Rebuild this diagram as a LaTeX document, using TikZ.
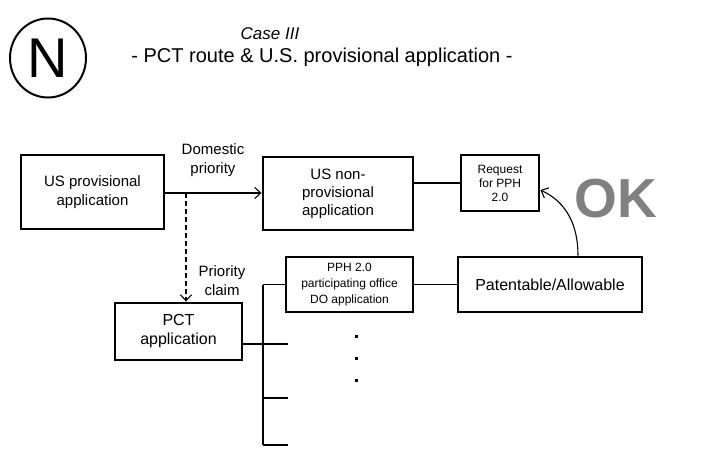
\documentclass[tikz,border=0pt]{standalone}
\usepackage{fontspec}
\setmainfont{Liberation Sans}
\usetikzlibrary{arrows.meta,shapes.geometric}
\newcommand{\fs}[2]{\fontsize{#1}{#2}\selectfont}
\begin{document}
\begin{tikzpicture}[x=1pt,y=1pt,
    box/.style={draw,line width=2.9pt,inner sep=0pt,align=center},
    lab/.style={align=center,font=\fs{15}{19}},
    link/.style={line width=1.1pt},
    tip/.style={-{Straight Barb[length=6pt,width=11pt,line width=1.1pt]}}]
    \useasboundingbox (0,0) rectangle (701,-461);
	    \node[draw,shape=ellipse,line width=2pt,minimum width=76pt,minimum height=79pt,inner sep=0pt,font=\fs{56}{60}] (mark) at (48,-58) {N};
	    \node[font=\fs{17}{20}\itshape] (case) at (270,-34) {Case III};
	    \node[font=\fs{20}{24}] (route) at (322,-57) {- PCT route \& U.S. provisional application -};

	    \node[box,minimum width=143pt,minimum height=74pt,font=\fs{15}{19}] (usprov) at (92.5,-192) {US provisional\\application};
	    \node[box,minimum width=150pt,minimum height=73pt,font=\fs{15}{18}] (usnonprov) at (338,-193.5) {US non-\\provisional\\application};
	    \node[box,minimum width=78pt,minimum height=56pt,font=\fs{12}{14}] (request) at (500,-183) {Request\\for PPH\\2.0};
	    \node[box,minimum width=127pt,minimum height=55pt,font=\fs{12}{16}] (pph) at (349.5,-284.5) {PPH 2.0\\participating office\\DO application};
	    \node[box,minimum width=184pt,minimum height=55pt,font=\fs{16}{19}] (patent) at (550,-284.5) {Patentable/Allowable};
	    \node[box,minimum width=127pt,minimum height=57pt,font=\fs{16}{19}] (pct) at (178.5,-331.5) {PCT\\application};

	    \node[lab] (dompri) at (213,-160) {Domestic\\priority};
	    \node[lab] (priclaim) at (222,-281) {Priority\\claim};
	    \node[font=\fs{55}{60}\bfseries,text=black!50] (ok) at (616,-199) {OK};

	    \coordinate (split) at (186,-193);
	    \coordinate (bt) at (263,-284.5);
	    \coordinate (bm) at (263,-344);
	    \coordinate (bl) at (263,-398);
	    \coordinate (bb) at (263,-445);

	    \draw[link,tip] (usprov.east |- split) -- (usnonprov.west |- split);
	    \draw[link,tip,dashed,dash pattern=on 5pt off 3pt] (split) -- (pct.north -| split);
	    \draw[link] (usnonprov.east |- request.west) -- (request.west);
	    \draw[link] (pph.east) -- (patent.west);
	    \draw[link,tip] ([xshift=28pt]patent.north) to[out=90,in=-25] ([yshift=-7pt]request.east);
	    \draw[link] (pct.east |- bm) -- (bm);
	    \draw[link] (bt) -- (bb);
	    \draw[link] (bt) -- (pph.west);
	    \draw[link] (bm) -- ++(25,0);
	    \draw[link] (bl) -- ++(25,0);
	    \draw[link] (bb) -- ++(25,0);
	    \foreach \yy in {335,357,379}
	      \fill (355,-\yy) rectangle ++(2.5,-2.5);
\end{tikzpicture}
\end{document}
